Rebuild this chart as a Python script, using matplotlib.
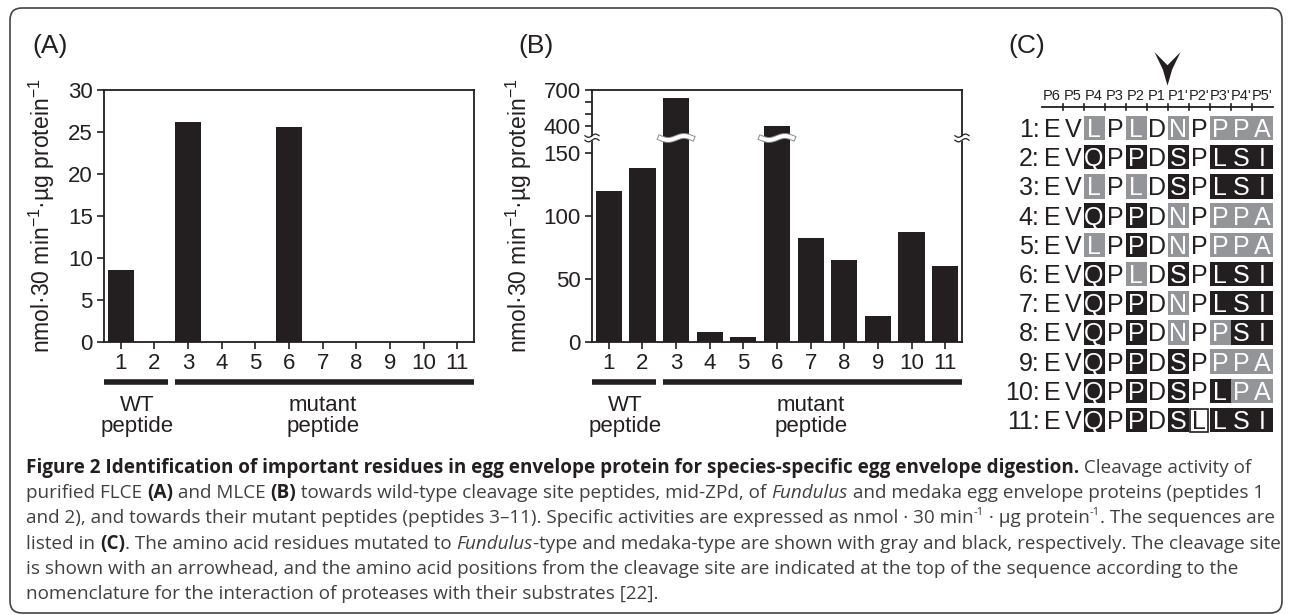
import numpy as np
import matplotlib
matplotlib.use("Agg")
import matplotlib.pyplot as plt
from matplotlib import font_manager as fm
from matplotlib.patches import Rectangle, FancyBboxPatch, Polygon

W, H = 1290, 615

# bar data
peptides = np.arange(1, 12)
flce_activity = [8.6, 0, 26.2, 0, 0, 25.6, 0, 0, 0, 0, 0]
mlce_activity = [120, 138, 633, 8, 4, 400, 82.5, 65, 20.5, 87, 60]

# sequence table for panel C
positions = ["P6", "P5", "P4", "P3", "P2", "P1", "P1'", "P2'", "P3'", "P4'", "P5'"]
sequences = ["EVLPLDNPPPA", "EVQPPDSPLSI", "EVLPLDSPLSI", "EVQPPDNPPPA",
             "EVLPPDNPPPA", "EVQPLDSPLSI", "EVQPPDNPLSI", "EVQPPDNPPSI",
             "EVQPPDSPPPA", "EVQPPDSPLPA", "EVQPPDSLLSI"]
# g = Fundulus-type (gray), b = medaka-type (black), w = boxed white
shading = ["..g.g.g.ggg", "..b.b.b.bbb", "..g.g.b.bbb", "..b.b.g.ggg",
           "..g.b.g.ggg", "..b.g.b.bbb", "..b.b.g.bbb", "..b.b.g.gbb",
           "..b.b.b.ggg", "..b.b.b.bgg", "..b.b.bwbbb"]

caption = [
    [("Figure 2 Identification of important residues in egg envelope protein for species-specific egg envelope digestion.", "b"),
     (" Cleavage activity of", "r")],
    [("purified FLCE ", "r"), ("(A)", "b"), (" and MLCE ", "r"), ("(B)", "b"),
     (" towards wild-type cleavage site peptides, mid-ZPd, of ", "r"), ("Fundulus", "i"),
     (" and medaka egg envelope proteins (peptides 1", "r")],
    [("and 2), and towards their mutant peptides (peptides 3\u201311). Specific activities are expressed as nmol \u00b7 30 min", "r"),
     ("-1", "s"), (" \u00b7 \u00b5g protein", "r"), ("-1", "s"), (". The sequences are", "r")],
    [("listed in ", "r"), ("(C)", "b"), (". The amino acid residues mutated to ", "r"), ("Fundulus", "i"),
     ("-type and medaka-type are shown with gray and black, respectively. The cleavage site", "r")],
    [("is shown with an arrowhead, and the amino acid positions from the cleavage site are indicated at the top of the sequence according to the", "r")],
    [("nomenclature for the interaction of proteases with their substrates [22].", "r")],
]

BLACK = "#231f20"
GRAY = "#939598"

plt.rcParams["font.family"] = ["Liberation Sans", "DejaVu Sans"]
plt.rcParams["mathtext.fontset"] = "custom"
plt.rcParams["mathtext.rm"] = "Liberation Sans"
plt.rcParams["mathtext.it"] = "Liberation Sans:italic"
plt.rcParams["mathtext.bf"] = "Liberation Sans:bold"


def have_font(name):
    try:
        fm.findfont(fm.FontProperties(family=name), fallback_to_default=False)
        return True
    except ValueError:
        return False


CAP_FONT = "Liberation Sans Narrow" if have_font("Liberation Sans Narrow") else "Open Sans"

fig = plt.figure(figsize=(W / 100, H / 100), dpi=100)


def px_rect(l, t, r, b):
    return [l / W, 1 - b / H, (r - l) / W, (b - t) / H]


# overlay in pixel coordinates for frame, panel letters and caption
ov = fig.add_axes([0, 0, 1, 1])
ov.set_xlim(0, W)
ov.set_ylim(H, 0)
ov.axis("off")
ov.add_patch(FancyBboxPatch((10, 8), 1272, 605, boxstyle="round,pad=0,rounding_size=12",
                            fc="none", ec="#444444", lw=1.2, clip_on=False))
for lab, x in [("(A)", 32), ("(B)", 518), ("(C)", 1008)]:
    ov.text(x, 46, lab, fontsize=19, va="center", ha="left", color=BLACK)

ylab = "nmol\u00b730 min$^{-1}$\u00b7\u00b5g protein$^{-1}$"


def style_axis(ax):
    for s in ax.spines.values():
        s.set_linewidth(1.3)
        s.set_color(BLACK)
    ax.set_facecolor("none")
    ax.tick_params(axis="both", which="both", direction="out", length=5, width=1.2,
                   labelsize=16, pad=3, colors=BLACK)
    ax.set_xlim(0.5, 11.5)
    ax.set_xticks(peptides)


def group_bars(ax):
    tr = ax.get_xaxis_transform()
    ax.plot([0.5, 2.4], [-0.159, -0.159], transform=tr, color=BLACK, lw=4,
            solid_capstyle="butt", clip_on=False)
    ax.plot([2.62, 11.5], [-0.159, -0.159], transform=tr, color=BLACK, lw=4,
            solid_capstyle="butt", clip_on=False)
    ax.text(1.48, -0.212, "WT\npeptide", transform=tr, ha="center", va="top",
            fontsize=16, linespacing=0.95, color=BLACK)
    ax.text(7.0, -0.212, "mutant\npeptide", transform=tr, ha="center", va="top",
            fontsize=16, linespacing=0.95, color=BLACK)


# ---- panel A
axA = fig.add_axes(px_rect(104, 90, 474, 342))
axA.bar(peptides, flce_activity, width=0.78, color=BLACK)
style_axis(axA)
axA.set_ylim(0, 30)
axA.set_yticks(range(0, 31, 5))
axA.set_ylabel(ylab, fontsize=16.5, color=BLACK)
axA.yaxis.set_label_coords(-0.128, 0.5)
group_bars(axA)

# ---- panel B (broken y axis through a piecewise scale)
LOW, HIGH, RATIO = 162.0, 300.0, 0.0952


def fwd(v):
    v = np.asarray(v, float)
    return np.where(v <= LOW, v, LOW + np.clip(v - HIGH, 0, None) * RATIO)


def inv(v):
    v = np.asarray(v, float)
    return np.where(v <= LOW, v, HIGH + (v - LOW) / RATIO)


axB = fig.add_axes(px_rect(592, 90, 962, 342))
axB.set_yscale("function", functions=(fwd, inv))
axB.bar(peptides, mlce_activity, width=0.78, color=BLACK)
style_axis(axB)
axB.set_ylim(0, 700)
axB.set_yticks([0, 50, 100, 150, 400, 700])
axB.set_yticks([500, 600], minor=True)
axB.set_yticklabels(["0", "50", "100", "150", "400", "700"])
axB.set_ylabel(ylab, fontsize=16.5, color=BLACK)
axB.yaxis.set_label_coords(-0.158, 0.5)
group_bars(axB)

yb = float(fwd(LOW) / fwd(700))
amp = 2.0 / 252
xtr = axB.get_xaxis_transform()
for x, v in zip(peptides, mlce_activity):
    if v > HIGH:
        xs = np.linspace(x - 0.47, x + 0.47, 60)
        ys = yb + amp * np.sin(2 * np.pi * (xs - x) / 0.94)
        axB.plot(xs, ys, transform=xtr, color="#8a8a8a", lw=4.2, clip_on=False, zorder=4)
        axB.plot(xs, ys, transform=xtr, color="white", lw=2.8, clip_on=False, zorder=5)

for xa in (0.0, 1.0):
    xs = np.linspace(xa - 0.019, xa + 0.019, 40)
    wave = amp * 0.8 * np.sin(2 * np.pi * (xs - xa) / 0.038)
    lo, hi = yb - 0.009 + wave, yb + 0.009 + wave
    axB.fill_between(xs, lo, hi, transform=axB.transAxes, color="white", lw=0,
                     clip_on=False, zorder=6)
    axB.plot(xs, lo, transform=axB.transAxes, color=BLACK, lw=0.9, clip_on=False, zorder=7)
    axB.plot(xs, hi, transform=axB.transAxes, color=BLACK, lw=0.9, clip_on=False, zorder=7)

# ---- panel C
row_px = 29.2
top_px = 128 - 0.5 * row_px
axC = fig.add_axes(px_rect(1041.5, top_px, 1272.5, top_px + 11 * row_px))
axC.set_xlim(-0.5, 10.5)
axC.set_ylim(10.5, -0.5)
axC.axis("off")

for r, (seq, sh) in enumerate(zip(sequences, shading)):
    axC.text(-0.6, r + 0.31, f"{r + 1}:", ha="right", va="baseline", fontsize=18, color=BLACK)
    for i, (ch, s) in enumerate(zip(seq, sh)):
        fc = {"g": GRAY, "b": BLACK}.get(s)
        if fc is not None:
            axC.add_patch(Rectangle((i - 0.5, r - 0.42), 1, 0.84, fc=fc, ec="none"))
        elif s == "w":
            axC.add_patch(Rectangle((i - 0.44, r - 0.38), 0.88, 0.78, fc="white", ec=BLACK, lw=1.2))
        tc = "white" if fc is not None else BLACK
        axC.text(i, r + 0.31, ch, ha="center", va="baseline", fontsize=18, color=tc)

for i, p in enumerate(positions):
    axC.text(i, -1.08, p, ha="center", va="center", fontsize=10.5, color=BLACK, clip_on=False)
axC.plot([-0.5, 10.5], [-0.72, -0.72], color=BLACK, lw=1.3, clip_on=False)
for i in range(10):
    axC.plot([i + 0.5, i + 0.5], [-0.82, -0.62], color=BLACK, lw=1.2, clip_on=False)
arrow = [(4.88, -2.6), (5.5, -2.15), (6.12, -2.6), (5.72, -2.0), (5.5, -1.45), (5.28, -2.0)]
axC.add_patch(Polygon(arrow, closed=True, fc=BLACK, ec="none", clip_on=False))

# ---- caption
renderer = fig.canvas.get_renderer()


def run_kw(st, size):
    kw = dict(family=[CAP_FONT, "Open Sans", "DejaVu Sans"], fontsize=size, color="#404040")
    if st == "b":
        kw.update(weight="bold", color="#231f20")
    elif st == "i":
        kw.update(style="italic")
    elif st == "s":
        kw.update(fontsize=size * 0.6)
    return kw


def run_width(txt, kw):
    t = ov.text(0, 0, txt + "|", **kw)
    w1 = t.get_window_extent(renderer).width
    t.remove()
    t = ov.text(0, 0, "|", **kw)
    w2 = t.get_window_extent(renderer).width
    t.remove()
    return w1 - w2


base = 10.0
w0 = sum(run_width(txt, run_kw(st, base)) for txt, st in caption[0])
cap_size = base * (1253 - 26) / w0

for k, line in enumerate(caption):
    x = 26
    y = 473 + 25.2 * k
    for txt, st in line:
        kw = run_kw(st, cap_size)
        dy = -0.45 * cap_size * 100 / 72 if st == "s" else 0
        ov.text(x, y + dy, txt, ha="left", va="baseline", **kw)
        x += run_width(txt, kw)

fig.savefig("out.png", dpi=100)
